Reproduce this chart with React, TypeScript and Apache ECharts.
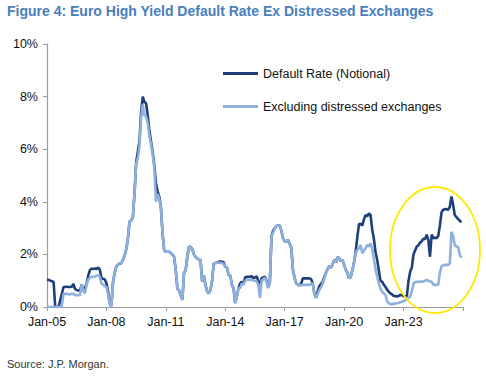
import React, { useEffect, useRef } from "react";
import * as echarts from "echarts";

const startYear = 2005;
const monthCount = 253; // Jan-05 .. Jan-26
const months = ["Jan", "Feb", "Mar", "Apr", "May", "Jun", "Jul", "Aug", "Sep", "Oct", "Nov", "Dec"];
const categories: string[] = [];
for (let i = 0; i < monthCount; i++) {
  const y = startYear + Math.floor(i / 12);
  categories.push(months[i % 12] + "-" + String(y % 100).padStart(2, "0"));
}

const yTicks = [0, 2, 4, 6, 8, 10];

const defaultRate = [
  1.05, 1.03, 1.0, 0.98, 0.95, 0, 0, 0, 0.25, 0.5, 0.75, 0.77,
  0.77, 0.76, 0.76, 0.77, 0.88, 0.68, 0.65, 0.63, 0.62, 0.85, 0.62, 0.72,
  0.9, 1.2, 1.4, 1.46, 1.44, 1.46, 1.45, 1.5, 1.42, 1.1, 1.07, 1.05,
  0.9, 0.6, 0.15, 0.05, 0.95, 1.3, 1.55, 1.6, 1.66, 1.66, 1.8, 1.95,
  2.2, 2.6, 3.25, 3.3, 3.4, 4.3, 5.5, 5.9, 6.3, 7.4, 8.0, 7.8,
  7.75, 7.3, 6.7, 6.3, 5.9, 5.4, 4.7, 4.4, 4.2, 3.8, 2.8, 2.15,
  2.1, 2.1, 2.1, 2.05, 2.0, 1.9, 1.4, 0.7, 0.62, 0.45, 0.27, 1.3,
  1.4, 1.9, 2.29, 2.28, 2.2, 2.0, 1.9, 1.85, 1.8, 1.78, 0.96, 1.2,
  0.84, 0.6, 0.52, 0.65, 1.0, 1.66, 1.67, 1.68, 1.72, 1.73, 1.72, 1.7,
  1.53, 1.5, 1.22, 1.2, 0.85, 0.72, 0.15, 0.4, 0.72, 0.9, 0.96, 0.88,
  1.12, 1.15, 1.15, 1.15, 1.17, 1.1, 1.12, 1.17, 1.0, 0.7, 1.1, 1.12,
  1.15, 1.0, 0.75, 0.95, 2.7, 2.9, 3.0, 3.08, 3.1, 3.1, 2.9, 2.6,
  2.5, 2.48, 2.55, 2.4, 2.25, 1.4, 1.1, 0.9, 0.84, 0.83, 0.9, 1.09,
  1.09, 1.09, 1.09, 1.09, 1.06, 0.9, 0.5, 0.35, 0.6, 0.8, 0.88, 0.96,
  1.15, 1.3, 1.45, 1.55, 1.5, 1.62, 1.79, 1.7, 1.9, 1.85, 1.75, 1.79,
  1.6, 1.4, 1.3, 1.09, 1.15, 1.4, 1.7, 2.1, 2.67, 3.15, 3.16, 3.1,
  3.33, 3.5, 3.45, 3.56, 3.5, 2.95, 2.6, 2.1, 1.8, 1.4, 1.0, 0.96,
  0.85, 0.77, 0.66, 0.58, 0.52, 0.48, 0.42, 0.42, 0.4, 0.42, 0.46, 0.45,
  0.42, 0.4, 0.42, 1.0, 1.34, 1.5, 2.0, 2.15, 2.3, 2.35, 2.45, 2.5,
  2.6, 2.58, 2.75, 2.55, 1.91, 2.75, 2.62, 2.63, 2.62, 2.7, 3.1, 3.6,
  3.7, 3.72, 3.72, 3.7, 3.8, 4.2, 3.9, 3.5, 3.42, 3.35, 3.28, 3.22,
];

const exDistressed = [
  0, 0, 0, 0, 0, 0, 0, 0, 0, 0.05, 0.5, 0.5,
  0.5, 0.48, 0.48, 0.5, 0.5, 0.45, 0.45, 0.45, 0.45, 0.85, 0.6, 0.52,
  0.85, 1.05, 1.1, 1.15, 1.15, 1.15, 1.2, 1.2, 1.15, 0.9, 0.85, 0.8,
  0.75, 0.5, 0.1, 0.02, 0.95, 1.3, 1.55, 1.6, 1.66, 1.66, 1.8, 1.95,
  2.2, 2.6, 3.25, 3.3, 3.4, 4.3, 5.45, 5.65, 6.1, 7.2, 7.7, 7.3,
  7.25, 7.0, 6.5, 6.2, 5.8, 5.3, 4.0, 4.3, 4.1, 3.8, 2.8, 2.15,
  2.1, 2.1, 2.1, 2.05, 2.0, 1.9, 1.4, 0.7, 0.62, 0.45, 0.27, 1.3,
  1.4, 1.9, 2.29, 2.28, 2.2, 2.0, 1.9, 1.85, 1.8, 1.78, 0.96, 1.2,
  0.84, 0.6, 0.52, 0.65, 1.0, 1.66, 1.67, 1.68, 1.68, 1.68, 1.66, 1.65,
  1.53, 1.5, 1.22, 1.2, 0.85, 0.72, 0.15, 0.4, 0.72, 0.72, 0.9, 0.84,
  1.0, 1.03, 1.03, 1.03, 1.03, 1.0, 1.0, 0.97, 0.86, 0.35, 1.0, 1.05,
  1.12, 0.96, 0.72, 0.95, 2.7, 2.82, 2.98, 3.08, 3.1, 3.1, 2.9, 2.6,
  2.5, 2.48, 2.55, 2.4, 2.25, 1.4, 1.1, 0.9, 0.84, 0.83, 0.83, 0.84,
  0.84, 0.84, 0.84, 0.84, 0.88, 0.9, 0.5, 0.35, 0.5, 0.65, 0.75, 0.88,
  1.1, 1.3, 1.45, 1.55, 1.5, 1.62, 1.79, 1.7, 1.9, 1.85, 1.75, 1.79,
  1.6, 1.4, 1.3, 1.09, 1.15, 1.4, 1.7, 2.04, 2.17, 2.23, 2.36, 2.04,
  2.15, 2.23, 2.36, 2.3, 2.42, 2.2, 1.85, 1.45, 1.15, 0.9, 0.7, 0.58,
  0.52, 0.46, 0.22, 0.15, 0.11, 0.11, 0.12, 0.13, 0.14, 0.15, 0.18, 0.2,
  0.22, 0.25, 0.3, 0.35, 0.39, 0.6, 0.88, 0.95, 0.96, 0.95, 0.97, 0.96,
  0.97, 1.0, 1.03, 1.0, 0.97, 0.97, 0.85, 0.84, 0.84, 0.84, 1.3, 1.55,
  1.58, 1.6, 1.6, 1.6, 1.65, 2.86, 2.7, 2.35, 2.3, 2.28, 2.0, 1.88,
];

const seriesNames = ["Default Rate (Notional)", "Excluding distressed exchanges"];
const FONT = "'Liberation Sans', Arial, sans-serif";

export default function App() {
  const ref = useRef<HTMLDivElement>(null);
  useEffect(() => {
    if (!ref.current) return;
    const chart = echarts.init(ref.current, null, { renderer: "svg" });
    chart.setOption({
      animation: false,
      backgroundColor: "#ffffff",
      textStyle: { fontFamily: FONT },
      title: {
        text: "Figure 4: Euro High Yield Default Rate Ex Distressed Exchanges",
        left: 7,
        top: 4,
        padding: 0,
        textStyle: { fontFamily: FONT, fontSize: 14, fontWeight: "bold", color: "#4a7ebb" },
      },
      legend: {
        orient: "vertical",
        left: 223,
        top: 67,
        padding: 0,
        icon: "rect",
        itemWidth: 35,
        itemHeight: 3,
        itemGap: 20,
        textStyle: { fontFamily: FONT, fontSize: 12.5, color: "#111" },
        data: seriesNames,
      },
      grid: { left: 47, right: 23, top: 44, bottom: 69 },
      xAxis: {
        type: "category",
        data: categories,
        boundaryGap: false,
        axisLine: { lineStyle: { color: "#9a9a9a", width: 1.2 } },
        axisTick: { interval: 35, length: 4, lineStyle: { color: "#9a9a9a" } },
        axisLabel: {
          interval: 35,
          margin: 8,
          fontFamily: FONT,
          fontSize: 12.5,
          color: "#111",
          formatter: (v: string) => (v === "Jan-26" ? "" : v),
        },
        splitLine: { show: false },
      },
      yAxis: {
        type: "value",
        min: yTicks[0],
        max: yTicks[yTicks.length - 1],
        interval: 2,
        axisLine: { show: true, lineStyle: { color: "#9a9a9a", width: 1.2 } },
        axisTick: { show: true, length: 4, lineStyle: { color: "#9a9a9a" } },
        axisLabel: { margin: 9, fontFamily: FONT, fontSize: 12.5, color: "#111", formatter: (v: number) => v + "%" },
        splitLine: { show: false },
      },
      series: [
        {
          name: seriesNames[0],
          type: "line",
          data: defaultRate,
          showSymbol: false,
          lineStyle: { color: "#1f3f78", width: 2.6 },
          itemStyle: { color: "#1f3f78" },
          z: 2,
        },
        {
          name: seriesNames[1],
          type: "line",
          data: exDistressed,
          showSymbol: false,
          lineStyle: { color: "#8eb0dc", width: 2.6 },
          itemStyle: { color: "#8eb0dc" },
          z: 3,
        },
      ],
      graphic: [
        {
          type: "ellipse",
          shape: { cx: 435, cy: 250, rx: 45, ry: 63 },
          style: { fill: "none", stroke: "#ffe900", lineWidth: 1.8 },
          z: 10,
        },
        {
          type: "text",
          left: 7,
          top: 358,
          style: { text: "Source: J.P. Morgan.", fontFamily: FONT, fontSize: 11, fill: "#333" },
        },
      ],
    });
    return () => chart.dispose();
  }, []);
  return <div ref={ref} style={{ width: 486, height: 376, position: "absolute", left: 0, top: 0 }} />;
}
